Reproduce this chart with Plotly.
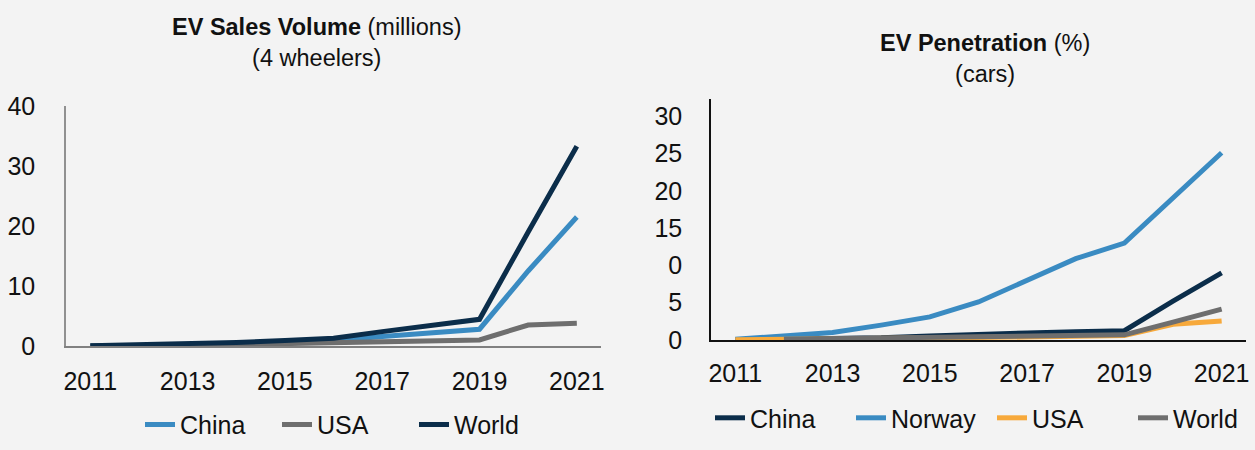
import plotly.graph_objects as go

years = list(range(2011, 2022))

# EV Sales Volume (millions), 4 wheelers
sales_china = [0.01, 0.05, 0.1, 0.2, 0.5, 0.9, 1.6, 2.2, 2.8, 12.5, 21.5]
sales_usa = [0.02, 0.05, 0.1, 0.15, 0.4, 0.6, 0.8, 0.9, 1.0, 3.5, 3.8]
sales_world = [0.05, 0.2, 0.4, 0.6, 0.9, 1.3, 2.4, 3.4, 4.45, 19.0, 33.3]

# EV Penetration (%), cars
pen_years_world = list(range(2012, 2022))
pen_china = [0.0, 0.05, 0.15, 0.3, 0.55, 0.8, 0.95, 1.1, 1.25, 5.2, 9.0]
pen_norway = [0.1, 0.5, 1.0, 2.0, 3.1, 5.1, 8.0, 10.9, 13.0, 19.0, 25.1]
pen_usa = [0.05, 0.08, 0.12, 0.2, 0.25, 0.3, 0.4, 0.5, 0.6, 2.1, 2.55]
pen_world = [0.1, 0.2, 0.25, 0.3, 0.4, 0.5, 0.6, 0.7, 2.4, 4.15]

left_yticks = [0, 10, 20, 30, 40]
right_yticks = [0, 5, 10, 15, 20, 25, 30]
right_yticktext = ["0", "5", "0", "15", "20", "25", "30"]
xticks = [2011, 2013, 2015, 2017, 2019, 2021]

C_LIGHT = "#3A8BC2"
C_GRAY = "#6E6E6E"
C_DARK = "#0B2D4A"
C_ORANGE = "#F7A93B"
FONT = "Liberation Sans, Arial, sans-serif"
LW = 5

fig = go.Figure()

fig.add_trace(go.Scatter(x=years, y=sales_china, name="China", mode="lines",
                         line=dict(color=C_LIGHT, width=LW), xaxis="x", yaxis="y", legend="legend"))
fig.add_trace(go.Scatter(x=years, y=sales_usa, name="USA", mode="lines",
                         line=dict(color=C_GRAY, width=LW), xaxis="x", yaxis="y", legend="legend"))
fig.add_trace(go.Scatter(x=years, y=sales_world, name="World", mode="lines",
                         line=dict(color=C_DARK, width=LW), xaxis="x", yaxis="y", legend="legend"))

fig.add_trace(go.Scatter(x=years, y=pen_china, name="China", mode="lines",
                         line=dict(color=C_DARK, width=LW), xaxis="x2", yaxis="y2", legend="legend2"))
fig.add_trace(go.Scatter(x=years, y=pen_norway, name="Norway", mode="lines",
                         line=dict(color=C_LIGHT, width=LW), xaxis="x2", yaxis="y2", legend="legend2"))
fig.add_trace(go.Scatter(x=years, y=pen_usa, name="USA", mode="lines",
                         line=dict(color=C_ORANGE, width=LW), xaxis="x2", yaxis="y2", legend="legend2"))
fig.add_trace(go.Scatter(x=pen_years_world, y=pen_world, name="World", mode="lines",
                         line=dict(color=C_GRAY, width=LW), xaxis="x2", yaxis="y2", legend="legend2"))

axis_common = dict(showgrid=False, zeroline=False, showline=True, ticks="",
                   automargin=False, tickfont=dict(family=FONT, size=25, color="#111"))

fig.update_layout(
    width=1255, height=450,
    margin=dict(l=0, r=0, t=0, b=0, autoexpand=False),
    paper_bgcolor="#F3F3F3", plot_bgcolor="#F3F3F3",
    font=dict(family=FONT, color="#111"),
    xaxis=dict(domain=[0.0526, 0.479], range=[2010.5, 2021.5], tickvals=xticks,
               linecolor="#808080", linewidth=1.5, anchor="y", ticklabelstandoff=12, **axis_common),
    yaxis=dict(domain=[0.2311, 0.7644], range=[0, 40], tickvals=left_yticks,
               linecolor="#909090", linewidth=1.5, anchor="x", ticklabelstandoff=24, **axis_common),
    xaxis2=dict(domain=[0.5665, 0.9928], range=[2010.5, 2021.5], tickvals=xticks,
                linecolor="#111", linewidth=1.5, anchor="y2", ticklabelstandoff=10, **axis_common),
    yaxis2=dict(domain=[0.2444, 0.78], range=[0, 32.3], tickvals=right_yticks, ticktext=right_yticktext,
                linecolor="#111", linewidth=1.5, anchor="x2", ticklabelstandoff=22, **axis_common),
    legend=dict(orientation="h", x=140 / 1255, xanchor="left", y=0.056, yanchor="middle",
                entrywidth=92, entrywidthmode="pixels",
                font=dict(family=FONT, size=25, color="#111"), bgcolor="rgba(0,0,0,0)"),
    legend2=dict(orientation="h", x=710 / 1255, xanchor="left", y=0.071, yanchor="middle",
                 entrywidth=96, entrywidthmode="pixels",
                 font=dict(family=FONT, size=25, color="#111"), bgcolor="rgba(0,0,0,0)"),
    showlegend=True,
)

fig.add_annotation(x=0.252, y=(450 - 42) / 450, xref="paper", yref="paper", showarrow=False,
                   xanchor="center", yanchor="middle",
                   text="<b>EV Sales Volume</b> (millions)<br>(4 wheelers)",
                   font=dict(family=FONT, size=23.5, color="#111"))
fig.add_annotation(x=0.785, y=(450 - 59) / 450, xref="paper", yref="paper", showarrow=False,
                   xanchor="center", yanchor="middle",
                   text="<b>EV Penetration</b> (%)<br>(cars)",
                   font=dict(family=FONT, size=23.5, color="#111"))

fig.write_html("out.html")
